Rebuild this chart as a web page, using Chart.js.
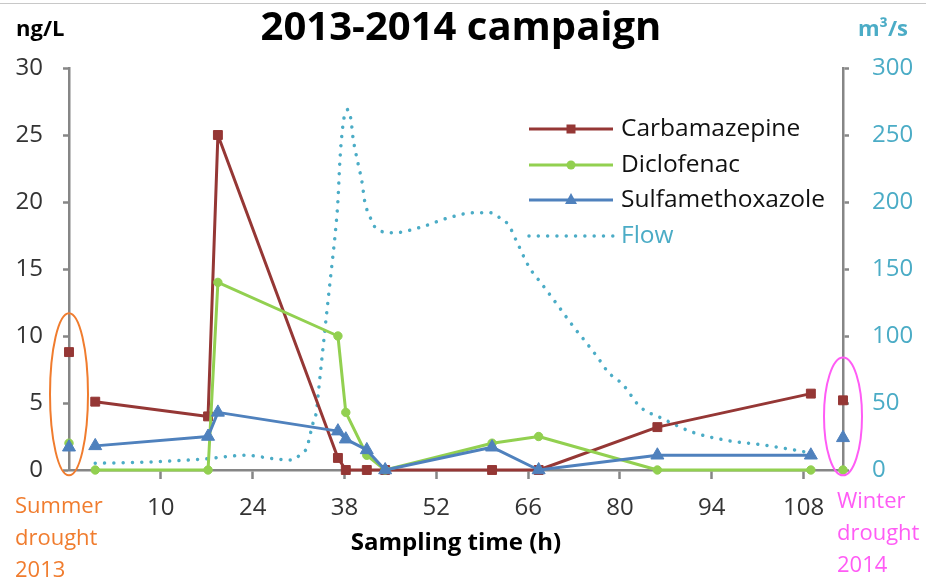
<!DOCTYPE html>
<html>
<head>
<meta charset="utf-8">
<script src="https://cdn.jsdelivr.net/npm/chart.js@4.4.0/dist/chart.umd.min.js"></script>
<style>
  html, body { margin: 0; padding: 0; background: #fff; }
  canvas { display: block; }
</style>
</head>
<body>
<canvas id="chart" width="926" height="578"></canvas>
<script>
// sampling times (h) and concentrations (ng/L)
const sampleHours = [0, 17.2, 18.7, 37, 38.2, 41.4, 44.2, 60.5, 67.6, 85.7, 109.1];
const carbamazepine = [5.1, 4.0, 25.0, 0.9, 0, 0, 0, 0, 0, 3.2, 5.7];
const diclofenac = [0, 0, 14.0, 10.0, 4.3, 1.1, 0, 2.0, 2.5, 0, 0];
const sulfamethoxazole = [1.8, 2.5, 4.3, 2.9, 2.3, 1.5, 0, 1.7, 0, 1.1, 1.1];

// drought reference samples, shown on the two axes
const droughtHours = [-4, 114];
const carbDrought = [8.8, 5.2];
const dicloDrought = [2.0, 0];
const sulfaDrought = [1.7, 2.4];

// river flow (m3/s)
const flowHours = [0, 8.3, 16, 23.1, 27, 30, 31.5, 32.3, 32.7, 33.2, 33.7, 34, 34.7, 35.5, 36.1, 36.6, 37,
  37.3, 37.8, 38.2, 38.5, 39, 39.3, 40.1, 40.7, 41.1, 41.8, 42.7, 45.4, 49.5, 53.7, 57.9, 60.2, 62, 63,
  64.3, 66.2, 67.9, 70.5, 72.9, 74.7, 76.6, 78.2, 80.4, 83.1, 86.2, 91.2, 96.4, 101.4, 106.5, 109.1];
const flowValues = [5, 6, 8, 11, 8.5, 7.5, 12.7, 17, 25, 35, 43, 57, 90, 127, 154, 177, 201,
  231, 259, 267, 269, 261, 248, 228, 214, 200, 190, 181, 177, 181, 188, 192, 192, 187, 183,
  170, 151, 140, 123, 107, 96, 84, 73, 64, 47, 39, 28, 22, 19, 15, 12.7];

const xTicks = [10, 24, 38, 52, 66, 80, 94, 108];

const RED = '#953735', GREEN = '#92D050', BLUE = '#4F81BD', FLOW = '#4BACC6';
const AXIS = '#868686', TEXT = '#333333';
const ORANGE = '#F07C2E', PINK = '#FF5CF5';
const FONT = '"Open Sans"';

function pts(xs, ys) {
  return xs.map((x, i) => ({ x: x, y: ys[i] }));
}

function series(label, color, style, radius, xs, ys, order, inLegend) {
  return {
    label: label,
    data: pts(xs, ys),
    yAxisID: 'y',
    borderColor: color,
    backgroundColor: color,
    borderWidth: 3,
    borderJoinStyle: 'round',
    pointStyle: style,
    pointRadius: radius,
    pointBorderWidth: 1,
    tension: 0,
    showLine: inLegend,
    clip: false,
    order: order,
    inLegend: inLegend
  };
}

Chart.defaults.font.family = FONT;

const decor = {
  id: 'decor',
  beforeDraw(chart) {
    const ctx = chart.ctx;
    ctx.save();
    ctx.fillStyle = '#fff';
    ctx.fillRect(0, 0, chart.width, chart.height);
    ctx.fillStyle = '#c8c8c8';
    ctx.fillRect(0, 3, chart.width, 1);
    ctx.restore();
  },
  afterDatasetsDraw(chart) {
    const ctx = chart.ctx;
    const x = chart.scales.x, y = chart.scales.y;
    function ring(xv, top, bottom, color) {
      const cx = x.getPixelForValue(xv);
      const t = y.getPixelForValue(top), b = y.getPixelForValue(bottom);
      ctx.beginPath();
      ctx.ellipse(cx, (t + b) / 2, 19, (b - t) / 2, 0, 0, Math.PI * 2);
      ctx.strokeStyle = color;
      ctx.lineWidth = 2;
      ctx.stroke();
    }
    ctx.save();
    ring(droughtHours[0], 11.7, -0.4, ORANGE);
    ring(droughtHours[1], 8.4, -0.4, PINK);
    ctx.restore();
  },
  afterDraw(chart) {
    const ctx = chart.ctx;
    const area = chart.chartArea;
    ctx.save();
    ctx.textBaseline = 'alphabetic';

    ctx.fillStyle = '#000';
    ctx.textAlign = 'center';
    ctx.font = 'bold 40px ' + FONT;
    ctx.fillText('2013-2014 campaign', 461, 40);

    ctx.font = 'bold 22px ' + FONT;
    ctx.textAlign = 'left';
    ctx.fillText('ng/L', 16, 36);
    ctx.fillStyle = FLOW;
    ctx.fillText('m³/s', 858, 36);

    ctx.fillStyle = '#000';
    ctx.textAlign = 'center';
    ctx.font = 'bold 24px ' + FONT;
    ctx.fillText('Sampling time (h)', (area.left + area.right) / 2, 550);

    ctx.textAlign = 'left';
    ctx.font = '22px ' + FONT;
    ctx.fillStyle = ORANGE;
    ['Summer', 'drought', '2013'].forEach((t, i) => ctx.fillText(t, 15, 513 + i * 32));
    ctx.fillStyle = PINK;
    ['Winter', 'drought', '2014'].forEach((t, i) => ctx.fillText(t, 837, 508 + i * 32));

    // legend inside the plot
    const x0 = area.right - 314, x1 = area.right - 230;
    const rowY = [129, 165, 200, 236];
    ctx.font = '24.5px ' + FONT;
    ctx.textBaseline = 'middle';
    chart.data.datasets.filter(d => d.inLegend).forEach((d, i) => {
      const yy = rowY[i];
      ctx.strokeStyle = d.borderColor;
      ctx.fillStyle = d.borderColor;
      ctx.lineWidth = d.borderWidth;
      ctx.setLineDash(d.borderDash || []);
      ctx.lineCap = d.borderCapStyle || 'butt';
      ctx.beginPath();
      ctx.moveTo(x0, yy);
      ctx.lineTo(x1, yy);
      ctx.stroke();
      ctx.setLineDash([]);
      const mx = (x0 + x1) / 2;
      if (d.pointStyle === 'rect') {
        ctx.fillRect(mx - 4.5, yy - 4.5, 9, 9);
      } else if (d.pointStyle === 'circle') {
        ctx.beginPath();
        ctx.arc(mx, yy, 4.5, 0, Math.PI * 2);
        ctx.fill();
      } else if (d.pointStyle === 'triangle') {
        ctx.beginPath();
        ctx.moveTo(mx, yy - 7);
        ctx.lineTo(mx + 6, yy + 4);
        ctx.lineTo(mx - 6, yy + 4);
        ctx.closePath();
        ctx.fill();
      }
      ctx.fillStyle = d.label === 'Flow' ? FLOW : '#111';
      ctx.fillText(d.label, x1 + 8, yy);
    });
    ctx.restore();
  }
};

new Chart(document.getElementById('chart').getContext('2d'), {
  type: 'line',
  data: {
    datasets: [
      series('Carbamazepine', RED, 'rect', 6.3, sampleHours, carbamazepine, 3, true),
      series('Diclofenac', GREEN, 'circle', 4.2, sampleHours, diclofenac, 2, true),
      series('Sulfamethoxazole', BLUE, 'triangle', 7.5, sampleHours, sulfamethoxazole, 1, true),
      {
        label: 'Flow',
        data: pts(flowHours, flowValues),
        yAxisID: 'y1',
        borderColor: FLOW,
        backgroundColor: FLOW,
        borderWidth: 3.5,
        borderDash: [0.01, 9.3],
        borderCapStyle: 'round',
        pointRadius: 0,
        cubicInterpolationMode: 'monotone',
        order: 4,
        inLegend: true
      },
      series('Carbamazepine drought', RED, 'rect', 6.3, droughtHours, carbDrought, 3, false),
      series('Diclofenac drought', GREEN, 'circle', 4.2, droughtHours, dicloDrought, 2, false),
      series('Sulfamethoxazole drought', BLUE, 'triangle', 7.5, droughtHours, sulfaDrought, 1, false)
    ]
  },
  options: {
    responsive: false,
    animation: false,
    devicePixelRatio: 1,
    layout: { padding: { top: 68, left: 0, right: 0, bottom: 0 } },
    plugins: { legend: { display: false }, title: { display: false }, tooltip: { enabled: false } },
    scales: {
      x: {
        type: 'linear',
        min: -4,
        max: 114,
        afterBuildTicks: s => { s.ticks = xTicks.map(v => ({ value: v })); },
        afterFit: s => { s.height = 108; },
        ticks: { autoSkip: false, maxRotation: 0, color: TEXT, font: { size: 24 }, padding: 15 },
        grid: { drawOnChartArea: false, drawTicks: true, tickLength: 9, tickColor: AXIS, tickWidth: 2.5 },
        border: { color: AXIS, width: 2.5 }
      },
      y: {
        position: 'left',
        min: 0,
        max: 30,
        afterFit: s => { s.width = 69; },
        ticks: { stepSize: 5, color: TEXT, font: { size: 24 }, padding: 20 },
        grid: { drawOnChartArea: false, drawTicks: true, tickLength: 6, tickColor: AXIS, tickWidth: 2.5 },
        border: { color: AXIS, width: 2.5 }
      },
      y1: {
        position: 'right',
        min: 0,
        max: 300,
        afterFit: s => { s.width = 83; },
        ticks: { stepSize: 50, color: FLOW, font: { size: 24 }, padding: 23 },
        grid: { drawOnChartArea: false, drawTicks: true, tickLength: 6, tickColor: AXIS, tickWidth: 2.5 },
        border: { color: AXIS, width: 2.5 }
      }
    }
  },
  plugins: [decor]
});
</script>
</body>
</html>
